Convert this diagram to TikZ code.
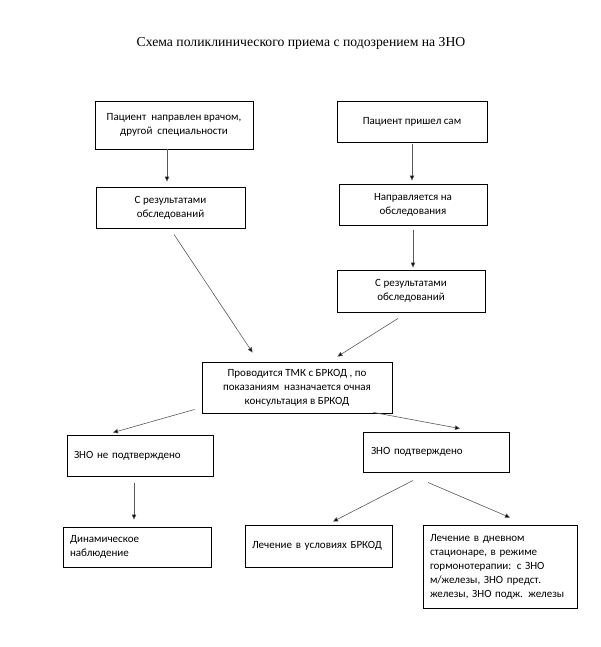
\documentclass[tikz,border=0pt]{standalone}
\usepackage{fontspec}
\setmainfont{Carlito}
\newfontfamily\titlefont{Liberation Serif}
\usetikzlibrary{arrows.meta}
\begin{document}
\begin{tikzpicture}[x=1pt,y=-1pt,
	box/.style={draw,line width=0.9pt,inner sep=0pt,align=center,font=\fontsize{11}{14}\selectfont},
	lbox/.style={box,inner xsep=7pt,align=left},
	arr/.style={draw=black!65,line width=0.6pt,-{Triangle[length=5pt,width=4.5pt,fill=black]}}]
	\useasboundingbox (0,0) rectangle (600,647);
	
	\node (title) at (301,43) {\titlefont\fontsize{13.7}{16}\selectfont Схема поликлинического приема с подозрением на ЗНО};
	
	\node[box,minimum width=158,minimum height=48] (pdoc) at (174,125) {Пациент\ \ направлен врачом,\\другой\ \ специальности};
	\node[box,minimum width=149,minimum height=41] (lres) at (170.5,207.5) {С результатами\\обследований};
	\node[box,minimum width=150,minimum height=41] (pself) at (412,121.5) {Пациент пришел сам};
	\node[box,minimum width=148,minimum height=41] (exam) at (413,204.5) {Направляется на\\обследования};
	\node[box,minimum width=148,minimum height=42] (rres) at (411,291) {С результатами\\обследований};
	\node[box,minimum width=190,minimum height=51] (tmk) at (297,387.5) {Проводится ТМК с БРКОД , по\\показаниям\ \ назначается очная\\консультация в БРКОД};
	
	\node[lbox,text width=132,minimum height=41] (nozno) at (140,455.5) {ЗНО не подтверждено};
	\node[lbox,text width=134,minimum height=40] (dyn) at (137,547) {Динамическое\\наблюдение};
	\node[lbox,text width=130,minimum height=40,inner xsep=8pt] (zno) at (436,452) {ЗНО подтверждено};
	\node[lbox,text width=133,minimum height=42] (brkod) at (318.5,546) {Лечение в условиях БРКОД};
	\node[lbox,text width=140,minimum height=83] (day) at (500,566.5) {Лечение в дневном\\стационаре, в режиме\\гормонотерапии: с ЗНО\\м/железы, ЗНО предст.\\железы, ЗНО подж. железы};
	
	\draw[arr,shorten >=5pt] ([xshift=-7]pdoc.south) -- ([xshift=-7]pdoc.south |- lres.north);
	\draw[arr,shorten <=2pt,shorten >=3pt] (pself.south) -- (pself.south |- exam.north);
	\draw[arr,shorten <=5pt,shorten >=2pt] (exam.south) -- (exam.south |- rres.north);
	\draw[arr] ([shift={(3.5,6)}]lres.south) -- ([shift={(51,-9)}]tmk.north west);
	\draw[arr] ([shift={(-13,6)}]rres.south) -- ([shift={(-55,-5)}]tmk.north east);
	\draw[arr] ([shift={(-7,-4)}]tmk.south west) -- ([shift={(-27,-2)}]nozno.north);
	\draw[arr] ([shift={(-19,-1)}]tmk.south east) -- ([shift={(24,-3)}]zno.north);
	\draw[arr,shorten <=7pt,shorten >=7pt] ([xshift=-6]nozno.south) -- ([xshift=-6]nozno.south |- dyn.north);
	\draw[arr] ([shift={(-23,8)}]zno.south) -- ([shift={(14.5,-3)}]brkod.north);
	\draw[arr] ([shift={(-8,10)}]zno.south) -- ([shift={(10,-7)}]day.north);
\end{tikzpicture}
\end{document}
